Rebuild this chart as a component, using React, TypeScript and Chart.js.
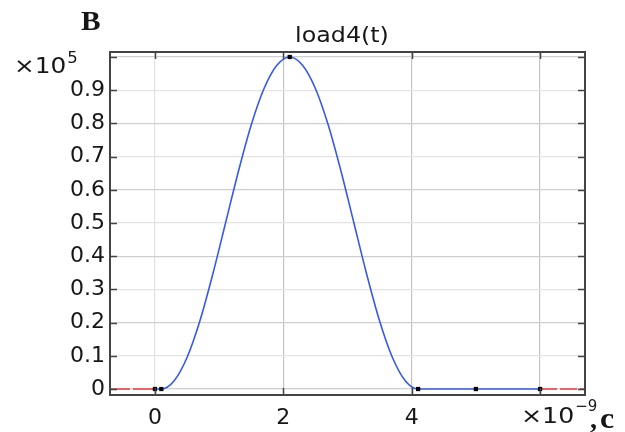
import { useEffect, useRef } from 'react';
import { Chart, registerables } from 'chart.js';

Chart.register(...registerables);

// time in units of 1e-9 s, load in units of 1e5
const pulseT = [0, 0.1, 0.3, 0.5, 0.7, 0.9, 1.1, 1.3, 1.5, 1.7, 1.9, 2.1, 2.3, 2.5, 2.7, 2.9, 3.1, 3.3, 3.5, 3.7, 3.9, 4.1, 5, 6];
const pulseLoad = [0, 0, 0.025, 0.095, 0.205, 0.345, 0.5, 0.655, 0.795, 0.905, 0.975, 1.0, 0.975, 0.905, 0.795, 0.655, 0.5, 0.345, 0.205, 0.095, 0.025, 0, 0, 0];

const extrapLeftT = [-0.7, 0];
const extrapLeftLoad = [0, 0];
const extrapRightT = [6, 6.7];
const extrapRightLoad = [0, 0];

const nodeT = [0, 0.1, 2.1, 4.1, 5, 6];
const nodeLoad = [0, 0, 1, 0, 0, 0];

const xTickValues = [0, 2, 4, 6];
const xTickLabels = ['0', '2', '4', ''];
const yTickValues = [0, 0.1, 0.2, 0.3, 0.4, 0.5, 0.6, 0.7, 0.8, 0.9, 1.0];
const yTickLabels = ['0', '0.1', '0.2', '0.3', '0.4', '0.5', '0.6', '0.7', '0.8', '0.9', ''];

const titleText = 'load4(t)';
const panelLetter = 'B';
const yExponent = '5';
const xExponent = '\u22129';
const unitText = 'c';

const toPts = (xs: number[], ys: number[]) => xs.map((x, i) => ({ x, y: ys[i] }));

function drawText(
  ctx: CanvasRenderingContext2D,
  s: string,
  x: number,
  y: number,
  font: string,
  sx = 1,
  align: CanvasTextAlign = 'left'
) {
  ctx.save();
  ctx.translate(x, y);
  ctx.scale(sx, 1);
  ctx.font = font;
  ctx.textAlign = align;
  ctx.textBaseline = 'alphabetic';
  ctx.fillStyle = '#161616';
  ctx.fillText(s, 0, 0);
  const w = ctx.measureText(s).width * sx;
  ctx.restore();
  return w;
}

const decor = {
  id: 'decor',
  afterDraw(chart: any) {
    const { ctx, chartArea } = chart;
    const { left, right, top, bottom } = chartArea;
    const xs = chart.scales.x;
    const ys = chart.scales.y;
    ctx.save();
    ctx.strokeStyle = '#444444';
    ctx.lineWidth = 1.5;
    const tl = 7;
    ctx.beginPath();
    yTickValues.forEach((v) => {
      const py = Math.round(ys.getPixelForValue(v)) + 0.5;
      ctx.moveTo(left, py);
      ctx.lineTo(left + tl, py);
      ctx.moveTo(right, py);
      ctx.lineTo(right - tl, py);
    });
    xTickValues.forEach((v) => {
      const px = Math.round(xs.getPixelForValue(v)) + 0.5;
      ctx.moveTo(px, bottom);
      ctx.lineTo(px, bottom - tl);
      ctx.moveTo(px, top);
      ctx.lineTo(px, top + tl);
    });
    ctx.stroke();
    ctx.lineWidth = 2;
    ctx.strokeRect(left, top, right - left, bottom - top);
    ctx.restore();

    const sans = 'DejaVu Sans';
    const serif = 'Liberation Serif';
    drawText(ctx, panelLetter, 81, 30, `bold 28px "${serif}"`, 1.05);
    drawText(ctx, titleText, 342, 42, `22px "${sans}"`, 1.08, 'center');
    // y exponent
    const w1 = drawText(ctx, '\u00d710', 14, 73, `21px "${sans}"`, 1.18);
    drawText(ctx, yExponent, 14 + w1 + 1, 63, `15px "${sans}"`, 1.1);
    // x exponent
    const w2 = drawText(ctx, '\u00d710', 521, 423, `21px "${sans}"`, 1.2);
    drawText(ctx, xExponent, 521 + w2 + 1, 411, `15px "${sans}"`, 1.0);
    drawText(ctx, ',', 590, 428, `bold 28px "${serif}"`);
    drawText(ctx, unitText, 600, 428, `bold 29px "${serif}"`, 1.1);
  },
};

export default function App() {
  const ref = useRef<HTMLCanvasElement | null>(null);
  useEffect(() => {
    if (!ref.current) return;
    const chart = new Chart(ref.current, {
      type: 'line',
      data: {
        datasets: [
          {
            data: toPts(nodeT, nodeLoad),
            showLine: false,
            pointStyle: 'rect',
            pointRadius: 3,
            pointBackgroundColor: '#000',
            pointBorderColor: '#000',
            pointBorderWidth: 0,
          },
          {
            data: toPts(pulseT, pulseLoad),
            borderColor: 'rgb(55,90,230)',
            borderWidth: 1.6,
            cubicInterpolationMode: 'monotone',
            pointRadius: 0,
          },
          {
            data: toPts(extrapLeftT, extrapLeftLoad),
            borderColor: 'rgb(235,100,100)',
            borderWidth: 2,
            borderDash: [20, 3],
            pointRadius: 0,
          },
          {
            data: toPts(extrapRightT, extrapRightLoad),
            borderColor: 'rgb(235,100,100)',
            borderWidth: 2,
            borderDash: [17, 3],
            pointRadius: 0,
          },
        ],
      },
      options: {
        responsive: false,
        animation: false,
        layout: { padding: { left: 0, right: 40, top: 52, bottom: 0 } },
        plugins: { legend: { display: false }, tooltip: { enabled: false }, title: { display: false } },
        scales: {
          x: {
            type: 'linear',
            min: -0.7,
            max: 6.7,
            afterBuildTicks: (s: any) => {
              s.ticks = xTickValues.map((v) => ({ value: v }));
            },
            afterFit: (s: any) => {
              s.height = 37;
            },
            grid: {
              drawTicks: false,
              color: (c: any) => (c.index === 0 ? '#e2e2e2' : '#c4c4c4'),
              lineWidth: 1.2,
            },
            border: { display: false },
            ticks: {
              padding: 10,
              autoSkip: false,
              maxRotation: 0,
              color: '#161616',
              font: { family: 'DejaVu Sans', size: 22 },
              callback: (_v: any, i: number) => xTickLabels[i],
            },
          },
          y: {
            type: 'linear',
            min: -0.018,
            max: 1.015,
            afterBuildTicks: (s: any) => {
              s.ticks = yTickValues.map((v) => ({ value: v }));
            },
            afterFit: (s: any) => {
              s.width = 110;
            },
            grid: {
              drawTicks: false,
              color: (c: any) => (c.index % 2 === 0 ? '#cfcfcf' : '#e4e4e4'),
              lineWidth: 1.2,
            },
            border: { display: false },
            ticks: {
              padding: 5,
              autoSkip: false,
              color: '#161616',
              font: { family: 'DejaVu Sans', size: 22 },
              callback: (_v: any, i: number) => yTickLabels[i],
            },
          },
        },
      },
      plugins: [decor],
    } as any);
    return () => chart.destroy();
  }, []);
  return (
    <canvas
      ref={ref}
      width={625}
      height={432}
      style={{ position: 'fixed', left: 0, top: 0, display: 'block', background: '#fff' }}
    />
  );
}
